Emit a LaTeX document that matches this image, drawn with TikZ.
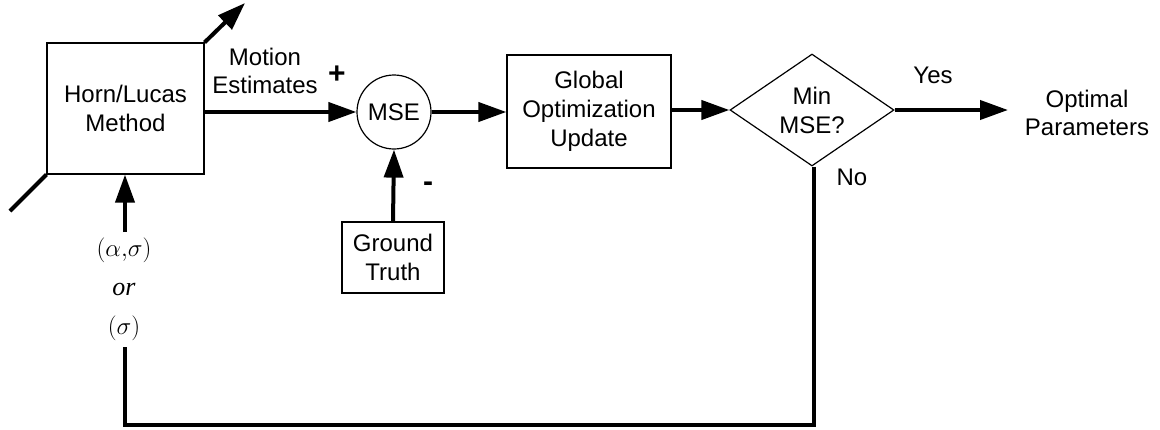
\documentclass[tikz,border=0pt]{standalone}
\usepackage{fontspec}
\setmainfont{Liberation Sans}
\newfontfamily\tnr{Liberation Serif}
\usetikzlibrary{shapes.geometric,arrows.meta}
\tikzset{
  blk/.style={draw,line width=1.2pt,rectangle,align=center,inner sep=0pt,font=\fontsize{24}{29}\selectfont},
  lbl/.style={align=center,inner sep=0pt,font=\fontsize{24}{28}\selectfont},
  mlbl/.style={inner sep=0pt,font=\fontsize{26}{30}\selectfont},
  sig/.style={line width=4pt},
  sigarr/.style={line width=4pt,-{Triangle[length=28pt,width=19pt]}},
}
\begin{document}
\begin{tikzpicture}[x=1pt,y=-1pt]
\useasboundingbox (0,0) rectangle (1160,429);
% blocks
\node[blk,minimum width=157pt,minimum height=131pt] (hl) at (125.5,108.5) {Horn/Lucas\\Method};
\node[blk,circle,minimum size=74pt] (mse) at (394,112) {MSE};
\node[blk,minimum width=102pt,minimum height=71pt] (gt) at (393,257.5) {Ground\\Truth};
\node[blk,minimum width=164pt,minimum height=113pt] (gou) at (589,111.5) {Global\\Optimization\\Update};
\node[blk,diamond,minimum width=164pt,minimum height=97pt] (dia) at (812,110) {Min\\MSE?};
% labels
\node[lbl] (me) at (265,71) {Motion\\Estimates};
\node[lbl,font=\fontsize{30}{30}\bfseries] (plus) at (337,75) {+};
\node[lbl,font=\fontsize{30}{30}\bfseries] (minus) at (428,187) {-};
\node[lbl] (yes) at (933,75) {Yes};
\node[lbl] (opt) at (1087,113) {Optimal\\Parameters};
\node[lbl] (no) at (852,177) {No};
\node[mlbl] (as) at (124,250) {$(\alpha{,}\sigma)$};
\node[mlbl] (or) at (124,289) {\tnr\itshape or};
\node[mlbl] (s) at (124,328) {$(\sigma)$};
% coordinates
\coordinate (d1) at (245,3);
\coordinate (d2) at (10,211);
\coordinate (a1) at (125,232);
\coordinate (fb) at (125,347);
\coordinate (c1) at (814,425);
\coordinate (c2) at (125,425);
\coordinate (out) at (1008,110);
% connectors
\draw[sigarr] (hl.east |- mse.west) -- (mse.west);
\draw[sigarr] (mse.east) -- (gou.west |- mse.east);
\draw[sigarr] (gou.east |- dia.west) -- (dia.west);
\draw[sigarr] (dia.east) -- (out);
\draw[sigarr] (gt.north) -- (mse.south);
\draw[sigarr] (a1) -- (a1 |- hl.south);
\draw[sigarr] (hl.north east) -- (d1);
\draw[sig] (hl.south west) -- (d2);
\draw[sig] (dia.south -| c1) -- (c1) -- (c2) -- (fb);
\end{tikzpicture}
\end{document}
